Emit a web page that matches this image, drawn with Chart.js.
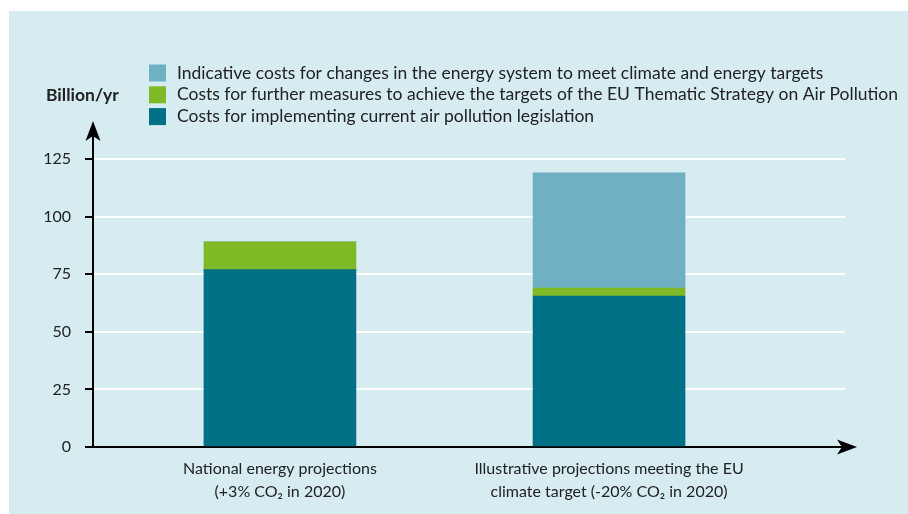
<!DOCTYPE html>
<html>
<head>
<meta charset="utf-8">
<script src="https://cdn.jsdelivr.net/npm/chart.js@4.4.1/dist/chart.umd.min.js"></script>
<style>
    body { margin: 0; background: #fff; }
    #wrap { width: 908px; height: 514px; }
</style>
</head>
<body>
<div id="wrap"><canvas id="costChart"></canvas></div>
<script>
// data
const categories = [
    ["National energy projections", "(+3% CO\u2082 in 2020)"],
    ["Illustrative projections meeting the EU", "climate target (-20% CO\u2082 in 2020)"]
];
const seriesNames = [
    "Costs for implementing current air pollution legislation",
    "Costs for further measures to achieve the targets of the EU Thematic Strategy on Air Pollution",
    "Indicative costs for changes in the energy system to meet climate and energy targets"
];
const currentLegislation = [77, 65.5];
const furtherMeasures = [12, 3.5];
const energySystem = [0, 50];
const yTicks = [0, 25, 50, 75, 100, 125];
const yTitle = "Billion/yr";

const colors = ["#007086", "#7fb925", "#6fb1c2"];
const FONT = "Lato, 'DejaVu Sans', sans-serif";

function toPoints(values) {
    return values.map((v, i) => ({ x: i + 1, y: v }));
}

// background, legend, axis arrows
const decorPlugin = {
    id: "decor",
    beforeDraw(chart) {
        const ctx = chart.ctx;
        ctx.save();
        ctx.fillStyle = "#ffffff";
        ctx.fillRect(0, 0, chart.width, chart.height);
        ctx.fillStyle = "#d6ecf1";
        ctx.fillRect(9, 11, chart.width - 9, chart.height - 11);
        ctx.restore();
    },
    afterDraw(chart) {
        const ctx = chart.ctx;
        const area = chart.chartArea;
        const x0 = chart.scales.x.left;
        const y0 = chart.scales.y.bottom;
        ctx.save();

        // axis extensions + arrow heads
        ctx.strokeStyle = "#000";
        ctx.fillStyle = "#000";
        ctx.lineWidth = 2;
        ctx.beginPath();
        ctx.moveTo(x0, area.top);
        ctx.lineTo(x0, 134);
        ctx.moveTo(area.right, y0);
        ctx.lineTo(842, y0);
        ctx.moveTo(85, y0);
        ctx.lineTo(x0, y0);
        ctx.stroke();

        ctx.beginPath();
        ctx.moveTo(x0, 121);
        ctx.lineTo(x0 + 7.5, 141);
        ctx.lineTo(x0, 136);
        ctx.lineTo(x0 - 7.5, 141);
        ctx.closePath();
        ctx.fill();

        ctx.beginPath();
        ctx.moveTo(857, y0);
        ctx.lineTo(837, y0 - 7.5);
        ctx.lineTo(842, y0);
        ctx.lineTo(837, y0 + 7.5);
        ctx.closePath();
        ctx.fill();

        // y title
        ctx.fillStyle = "#222";
        ctx.font = "bold 17.5px " + FONT;
        ctx.textBaseline = "middle";
        ctx.textAlign = "left";
        ctx.fillText(yTitle, 46, 95);

        // legend, top entry is the top of the stack
        ctx.font = "17.5px " + FONT;
        const rows = chart.data.datasets.slice().reverse();
        rows.forEach((ds, i) => {
            const cy = 73 + i * 21.8;
            ctx.fillStyle = ds.backgroundColor;
            ctx.fillRect(149, cy - 8.5, 17, 17);
            ctx.fillStyle = "#222";
            ctx.fillText(ds.label, 177, cy);
        });
        ctx.restore();
    }
};

new Chart(document.getElementById("costChart"), {
    type: "bar",
    data: {
        datasets: [
            { label: seriesNames[0], data: toPoints(currentLegislation), backgroundColor: colors[0] },
            { label: seriesNames[1], data: toPoints(furtherMeasures), backgroundColor: colors[1] },
            { label: seriesNames[2], data: toPoints(energySystem), backgroundColor: colors[2] }
        ]
    },
    options: {
        responsive: true,
        maintainAspectRatio: false,
        animation: false,
        barThickness: 152,
        layout: { padding: { top: 159, right: 63, left: 0, bottom: 0 } },
        plugins: {
            legend: { display: false },
            tooltip: { enabled: false }
        },
        scales: {
            x: {
                type: "linear",
                stacked: true,
                offset: false,
                min: 0.432,
                max: 2.717,
                afterBuildTicks(scale) {
                    scale.ticks = categories.map((c, i) => ({ value: i + 1 }));
                },
                afterFit(scale) { scale.height = 67; },
                grid: { display: false },
                border: { display: true, color: "#000", width: 2 },
                ticks: {
                    color: "#222",
                    padding: 2,
                    maxRotation: 0,
                    font: { family: FONT, size: 16, lineHeight: 1.45 },
                    callback: (v) => categories[Math.round(v) - 1] || ""
                }
            },
            y: {
                stacked: true,
                min: 0,
                max: 125,
                afterBuildTicks(scale) {
                    scale.ticks = yTicks.map(v => ({ value: v }));
                },
                afterFit(scale) { scale.width = 93; },
                grid: {
                    color: "#ffffff",
                    lineWidth: 2,
                    tickColor: "#000",
                    tickLength: 8,
                    tickWidth: 2
                },
                border: { display: true, color: "#000", width: 2 },
                ticks: {
                    color: "#222",
                    padding: 14,
                    font: { family: FONT, size: 16 }
                }
            }
        }
    },
    plugins: [decorPlugin]
});
</script>
</body>
</html>
